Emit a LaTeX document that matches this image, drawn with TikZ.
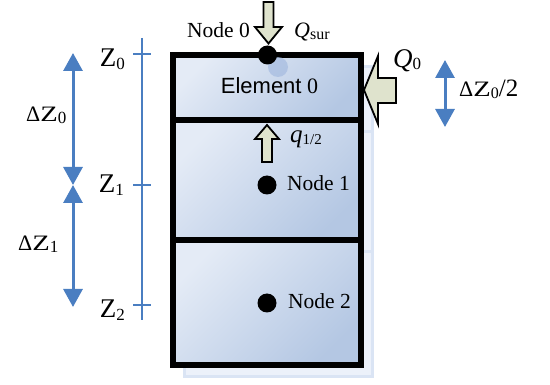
\documentclass[tikz,border=0pt]{standalone}
\usepackage{fontspec}
\setmainfont{Liberation Serif}
\newfontfamily\arialf{Liberation Sans}
\usepackage{graphicx}
\usetikzlibrary{arrows.meta}
\definecolor{zblue}{RGB}{74,126,193}
\definecolor{boxlight}{RGB}{228,235,246}
\definecolor{boxdark}{RGB}{180,199,227}
\definecolor{ghostfill}{RGB}{236,241,250}
\definecolor{ghostline}{RGB}{218,228,244}
\definecolor{ghostdot}{RGB}{165,187,224}
\definecolor{arrfill}{RGB}{223,227,205}
\newcommand{\fs}[1]{\fontsize{#1}{#1}\selectfont}
\newcommand{\wideZ}{\scalebox{1.3}[1]{Z}}
\begin{document}
\begin{tikzpicture}[x=1pt,y=-1pt,
  elem/.style={rectangle, draw=black, line width=5.5pt, inner sep=0pt, minimum width=188pt, top color=boxlight, bottom color=boxdark, shading angle=45},
  ghost/.style={rectangle, draw=ghostline, fill=ghostfill, line width=3pt, inner sep=0pt, minimum width=188pt},
  dot/.style={circle, fill=black, inner sep=0pt, minimum size=19pt},
  txt/.style={inner sep=0pt, font=\fs{21.5}},
  blockarr/.style={draw=black, fill=arrfill, line width=1.8pt, line join=miter},
  axisline/.style={draw=zblue, line width=2.2pt},
  dimarr/.style={draw=zblue, line width=3pt, {Triangle[width=19pt,length=18pt]}-{Triangle[width=19pt,length=18pt]}}
]
\useasboundingbox (0,0) rectangle (550,385);
% ghost (shadow) copy
\node[ghost, minimum height=65pt] (g0) at (278,99.5) {};
\node[ghost, minimum height=120pt] (g1) at (278,192) {};
\node[ghost, minimum height=125pt] (g2) at (278,314.5) {};
% elements
\node[elem, minimum height=65pt] (e0) at (267,87.5) {};
\node[elem, minimum height=120pt] (e1) at (267,180) {};
\node[elem, minimum height=125pt] (e2) at (267,302.5) {};
\node[inner sep=0pt, anchor=base, font=\fs{22}] (e0lab) at (269.5,93.5) {{\arialf Element} 0};
% ghost dot and nodes
\node[circle, fill=ghostdot, opacity=0.7, inner sep=0pt, minimum size=20pt] (gd) at (278,67) {};
\node[dot] (n0) at (267.5,55) {};
\node[dot] (n1) at (267,185) {};
\node[dot] (n2) at (267,303) {};
% block arrows
\draw[blockarr] (263.5,2) -- (273.5,2) -- (273.5,27) -- (282,27) -- (268.5,43.5) -- (255,27) -- (263.5,27) -- cycle;
\draw[blockarr] (396,78) -- (378,78) -- (378,56) -- (364,90) -- (378,124) -- (378,103) -- (396,103) -- cycle;
\draw[blockarr] (262,162) -- (272,162) -- (272,139) -- (279,139) -- (267,125) -- (255,139) -- (262,139) -- cycle;
% labels
\node[txt, anchor=base east] (n0lab) at (250,38) {Node 0};
\node[txt, anchor=base west] (n1lab) at (287,191) {Node 1};
\node[txt, anchor=base west] (n2lab) at (288,309) {Node 2};
\node[inner sep=0pt, anchor=base west] (qsur) at (294,38) {\fs{22}\itshape Q\raisebox{-2pt}{\fs{16}\upshape sur}};
\node[inner sep=0pt, anchor=base west] (q0) at (393,68) {\fs{27}\itshape Q\raisebox{-2pt}{\fs{17}\upshape 0}};
\node[inner sep=0pt, anchor=base west] (qhalf) at (290,143) {\fs{25}\itshape q\raisebox{-2pt}{\fs{15}\upshape 1/2}};
% axis
\coordinate (ax0) at (142,38);
\coordinate (ax1) at (142,320);
\draw[axisline] (ax0) -- (ax1);
\coordinate (t0a) at (133,54);  \coordinate (t0b) at (151,54);
\coordinate (t1a) at (133,185); \coordinate (t1b) at (151,185);
\coordinate (t2a) at (133,305); \coordinate (t2b) at (151,305);
\draw[axisline] (t0a) -- (t0b);
\draw[axisline] (t1a) -- (t1b);
\draw[axisline] (t2a) -- (t2b);
\node[inner sep=0pt, anchor=base east] (z0) at (125,67) {\fs{27}Z\raisebox{-2.5pt}{\fs{17}0}};
\node[inner sep=0pt, anchor=base east] (z1) at (124,193) {\fs{27}Z\raisebox{-2.5pt}{\fs{17}1}};
\node[inner sep=0pt, anchor=base east] (z2) at (125,318) {\fs{27}Z\raisebox{-2.5pt}{\fs{17}2}};
% dimension arrows
\coordinate (d0a) at (73,53);
\coordinate (d0b) at (73,185);
\coordinate (d1b) at (73,307);
\draw[dimarr] (d0a) -- (d0b);
\draw[dimarr] (d0b) -- (d1b);
\coordinate (dha) at (445,60);
\coordinate (dhb) at (445,127);
\draw[dimarr] (dha) -- (dhb);
\node[inner sep=0pt, anchor=base west] (dz0) at (26,122) {\fs{22}Δ\wideZ\raisebox{-2pt}{\fs{17}0}};
\node[inner sep=0pt, anchor=base west] (dz1) at (18,251) {\fs{22}Δ\wideZ\raisebox{-2pt}{\fs{17}1}};
\node[inner sep=0pt, anchor=base west] (dzh) at (459,97) {\fs{22}Δ\wideZ\raisebox{-2pt}{\fs{16}0}\fs{25}/2};
\end{tikzpicture}
\end{document}
